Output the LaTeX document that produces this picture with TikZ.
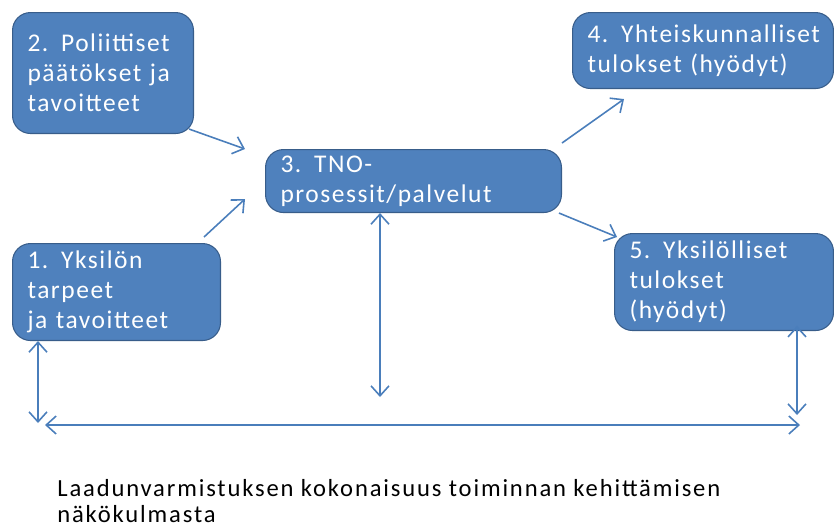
\documentclass[tikz,border=0pt]{standalone}
\usepackage{fontspec}
\setmainfont{Carlito}
\newfontfamily\boxfont[LetterSpace=6]{Carlito}
\newfontfamily\notefont[LetterSpace=7.5]{Carlito}
\usetikzlibrary{arrows.meta}
\definecolor{boxfill}{RGB}{79,129,189}
\definecolor{boxline}{RGB}{56,93,138}
\definecolor{linkcol}{RGB}{74,126,187}
\tikzset{
  stagebox/.style={draw=boxline, line width=0.6, fill=boxfill, rounded corners=0.36cm,
    text=white, align=left, anchor=north west, inner xsep=0.3cm, inner ysep=0pt,
    font=\boxfont\fontsize{14.5pt}{17pt}\selectfont},
  link/.style={draw=linkcol, line width=0.9, -{Straight Barb[length=2mm,width=3.6mm]}},
  bothlink/.style={draw=linkcol, line width=0.9, {Straight Barb[length=2mm,width=3.6mm]}-{Straight Barb[length=2mm,width=3.6mm]}}
}
\begin{document}
\begin{tikzpicture}[x=0.02cm,y=-0.02cm]
\useasboundingbox (0,0) rectangle (834,529);
% policy box top left
\node [stagebox, minimum width=3.62cm, minimum height=2.42cm, text width=3.02cm] (policy) at (12,12) {2. Poliittiset\\päätökset ja\\tavoitteet};
% individual needs box left
\node [stagebox, minimum width=4.16cm, minimum height=1.94cm, text width=3.56cm] (needs) at (12,243) {1. Yksilön\\tarpeet\\ja tavoitteet};
% process box middle
\node [stagebox, minimum width=5.92cm, minimum height=1.26cm, text width=5.32cm] (process) at (265,149) {3. TNO-\\prosessit/palvelut};
% societal outcomes top right
\node [stagebox, minimum width=5.22cm, minimum height=1.52cm, text width=4.62cm] (society) at (572,12) {4. Yhteiskunnalliset\\tulokset (hyödyt)};
% individual outcomes right
\node [stagebox, minimum width=4.38cm, minimum height=1.94cm, text width=3.78cm] (personal) at (614,233) {5. Yksilölliset\\tulokset\\(hyödyt)};
% free ends of the lines
\coordinate (midfoot) at (380,397);
\coordinate (leftfoot) at (38,423);
\coordinate (rightfoot) at (797,415);
\coordinate (baseleft) at (45,425);
\coordinate (baseright) at (800,425);
% arrows into and out of the process
\draw [link] ([shift={(-5,-5)}]policy.south east) -- ([shift={(-20,0)}]process.north west);
\draw [link] ([shift={(-17,-6)}]needs.north east) -- ([shift={(-20,-14)}]process.south west);
\draw [link] ([shift={(0,-6)}]process.north east) -- ([shift={(52,10)}]society.south west);
\draw [link] ([shift={(-3,0)}]process.south east) -- ([shift={(3,4)}]personal.north west);
% two-way links down to the base line
\draw [bothlink] (process.south -| midfoot) -- (midfoot);
\draw [bothlink] (needs.south -| leftfoot) -- (leftfoot);
\draw [bothlink] ([yshift=3]personal.south -| rightfoot) -- (rightfoot);
\draw [bothlink] (baseleft) -- (baseright);
% caption
\node [anchor=base west, align=left, font=\notefont\fontsize{14pt}{14.7pt}\selectfont, inner sep=0pt] (caption) at (57,522) {Laadunvarmistuksen kokonaisuus toiminnan kehittämisen\\näkökulmasta};
\end{tikzpicture}
\end{document}
